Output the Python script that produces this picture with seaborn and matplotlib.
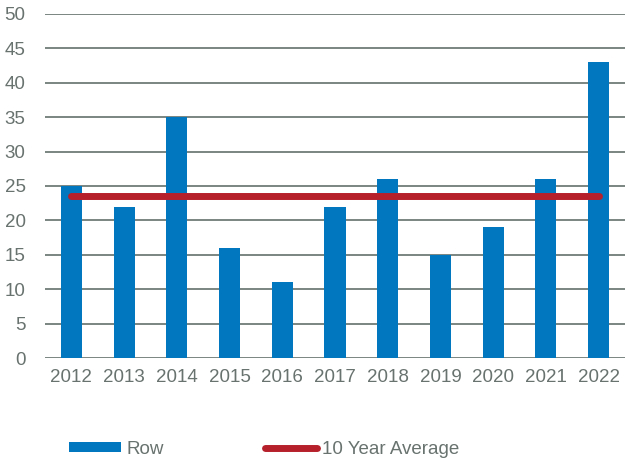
import matplotlib
matplotlib.use("Agg")
import matplotlib.pyplot as plt
from matplotlib.patches import Patch
from matplotlib.lines import Line2D
import seaborn as sns
import pandas as pd

# data
years = ["2012", "2013", "2014", "2015", "2016", "2017", "2018", "2019", "2020", "2021", "2022"]
row_values = [25, 22, 35, 16, 11, 22, 26, 15, 19, 26, 43]
ten_year_avg = 23.6
yticks = [0, 5, 10, 15, 20, 25, 30, 35, 40, 45, 50]

bar_color = "#0077BE"
avg_color = "#B5202B"
text_color = "#68726E"
grid_color = "#6F7B77"

sns.set_theme(style="white")
plt.rcParams["font.family"] = ["Liberation Sans", "DejaVu Sans"]

df = pd.DataFrame({"year": years, "value": row_values})

fig = plt.figure(figsize=(6.25, 4.62), dpi=100)
ax = fig.add_axes([0.072, 0.225, 0.928, 0.745])

sns.barplot(data=df, x="year", y="value", color=bar_color, width=0.4,
            saturation=1, linewidth=0, ax=ax, zorder=3)
ax.plot(range(len(years)), [ten_year_avg] * len(years), color=avg_color,
        lw=5, solid_capstyle="round", zorder=4)

ax.set_ylim(0, 50)
ax.set_xlim(-0.5, len(years) - 0.5)
ax.set_yticks(yticks)
for y in yticks:
    ax.axhline(y, color=grid_color, lw=1.3, zorder=1)
ax.set_xlabel("")
ax.set_ylabel("")
for s in ax.spines.values():
    s.set_visible(False)
ax.tick_params(axis="both", length=0, labelsize=13.5, labelcolor=text_color)
ax.tick_params(axis="y", pad=14)
ax.tick_params(axis="x", pad=8)

handles = [Patch(facecolor=bar_color, edgecolor="none", label="Row"),
           Line2D([0], [0], color=avg_color, lw=5, solid_capstyle="round",
                  label="10 Year Average")]
leg = fig.legend(handles=handles, loc="center left", bbox_to_anchor=(0.084, 0.028),
                 ncol=2, frameon=False, fontsize=13.5, handlelength=2.75,
                 handleheight=0.45, handletextpad=0.3, columnspacing=5.4,
                 labelcolor=text_color)

fig.savefig("out.png", dpi=100)
